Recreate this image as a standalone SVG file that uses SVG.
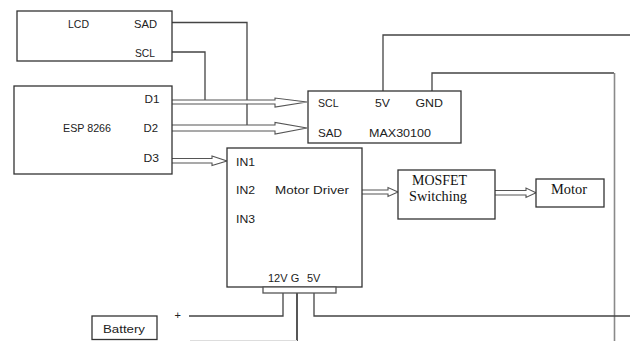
<svg xmlns="http://www.w3.org/2000/svg" width="630" height="341" viewBox="0 0 630 341">
<style>
.box{fill:#fff;stroke:#333;stroke-width:1.3}
.w{fill:none;stroke:#444;stroke-width:1.3}
.w2{fill:none;stroke:#8a8a8a;stroke-width:1.6}
.ar{fill:#fff;stroke:#555;stroke-width:1.1;stroke-linejoin:miter}
.t{font-family:"Liberation Sans",Arial,sans-serif;font-size:11px;fill:#222}
.s{font-family:"Liberation Serif","Times New Roman",serif;font-size:14px;fill:#111}
</style>
<rect width="630" height="341" fill="#fff"/>
<g id="connectors">
<path class="w" d="M172,22.5 H247 V127"/>
<path class="w" d="M172,52 H205 V100"/>
<path class="w" d="M383,91 V35 H630"/>
<path class="w" d="M432,91 V73 H614"/>
<path class="w2" d="M614.5,73 V341"/>
<path class="w" d="M283,293 V316 H189"/>
<path class="w" d="M297,293 V341" style="stroke-width:1.8"/>
<path class="w" d="M314,293 V316 H630"/>
<path d="M190,340.5 H297" fill="none" stroke="#ddd" stroke-width="1"/>
<polyline class="ar" points="172,100 275,100 275,98 307,102 275,107 275,104 172,104"/>
<polyline class="ar" points="172,125 275,125 275,122.5 307,128 275,134 275,131 172,131"/>
<polyline class="ar" points="172,158.5 212,158.5 212,156 227,161 212,165.5 212,163 172,163"/>
<polyline class="ar" points="362,190 388,190 388,187.5 398,192 388,196.5 388,194 362,194"/>
<polyline class="ar" points="495,190.5 526,190.5 526,188 536,192.7 526,197.5 526,195 495,195"/>
</g>
<g id="lcd">
<rect class="box" x="17" y="11" width="155" height="50"/>
<text class="t" x="68" y="27.5" textLength="21" lengthAdjust="spacingAndGlyphs">LCD</text>
<text class="t" x="134" y="27.5" textLength="23" lengthAdjust="spacingAndGlyphs">SAD</text>
<text class="t" x="135" y="57" textLength="20" lengthAdjust="spacingAndGlyphs">SCL</text>
</g>
<g id="esp">
<rect class="box" x="14" y="86" width="158" height="88"/>
<text class="t" x="144.5" y="102.5" textLength="15" lengthAdjust="spacingAndGlyphs">D1</text>
<text class="t" x="63" y="132" textLength="48" lengthAdjust="spacingAndGlyphs">ESP 8266</text>
<text class="t" x="143.5" y="132" textLength="14.5" lengthAdjust="spacingAndGlyphs">D2</text>
<text class="t" x="143.5" y="161.5" textLength="15.5" lengthAdjust="spacingAndGlyphs">D3</text>
</g>
<g id="max30100">
<rect class="box" x="308" y="91" width="153" height="52"/>
<text class="t" x="318" y="107" textLength="20.5" lengthAdjust="spacingAndGlyphs">SCL</text>
<text class="t" x="375" y="107" textLength="15" lengthAdjust="spacingAndGlyphs">5V</text>
<text class="t" x="415.5" y="107" textLength="27.5" lengthAdjust="spacingAndGlyphs">GND</text>
<text class="t" x="318" y="136.5" textLength="24" lengthAdjust="spacingAndGlyphs">SAD</text>
<text class="t" x="369" y="136.5" textLength="62" lengthAdjust="spacingAndGlyphs">MAX30100</text>
</g>
<g id="motor-driver">
<rect class="box" x="227" y="148" width="135" height="139"/>
<rect class="box" x="263" y="287" width="73" height="6" style="stroke:#555"/>
<text class="t" x="236" y="166" textLength="19" lengthAdjust="spacingAndGlyphs">IN1</text>
<text class="t" x="236" y="194" textLength="19" lengthAdjust="spacingAndGlyphs">IN2</text>
<text class="t" x="236" y="223" textLength="19" lengthAdjust="spacingAndGlyphs">IN3</text>
<text class="t" x="275" y="194" textLength="74" lengthAdjust="spacingAndGlyphs">Motor Driver</text>
<text class="t" x="268" y="281.5">12V G <tspan x="307">5V</tspan></text>
</g>
<g id="mosfet">
<rect class="box" x="398" y="170" width="97" height="49"/>
<text class="s" x="412" y="185" textLength="55" lengthAdjust="spacingAndGlyphs">MOSFET</text>
<text class="s" x="409" y="200.5" textLength="58" lengthAdjust="spacingAndGlyphs">Switching</text>
</g>
<g id="motor">
<rect class="box" x="536" y="179" width="68" height="28"/>
<text class="s" x="551" y="194" textLength="36" lengthAdjust="spacingAndGlyphs">Motor</text>
</g>
<g id="battery">
<rect class="box" x="92" y="316" width="65" height="23.5"/>
<text class="t" x="103" y="333" textLength="42" lengthAdjust="spacingAndGlyphs">Battery</text>
<text class="t" x="174.5" y="318.5">+</text>
</g>
</svg>
